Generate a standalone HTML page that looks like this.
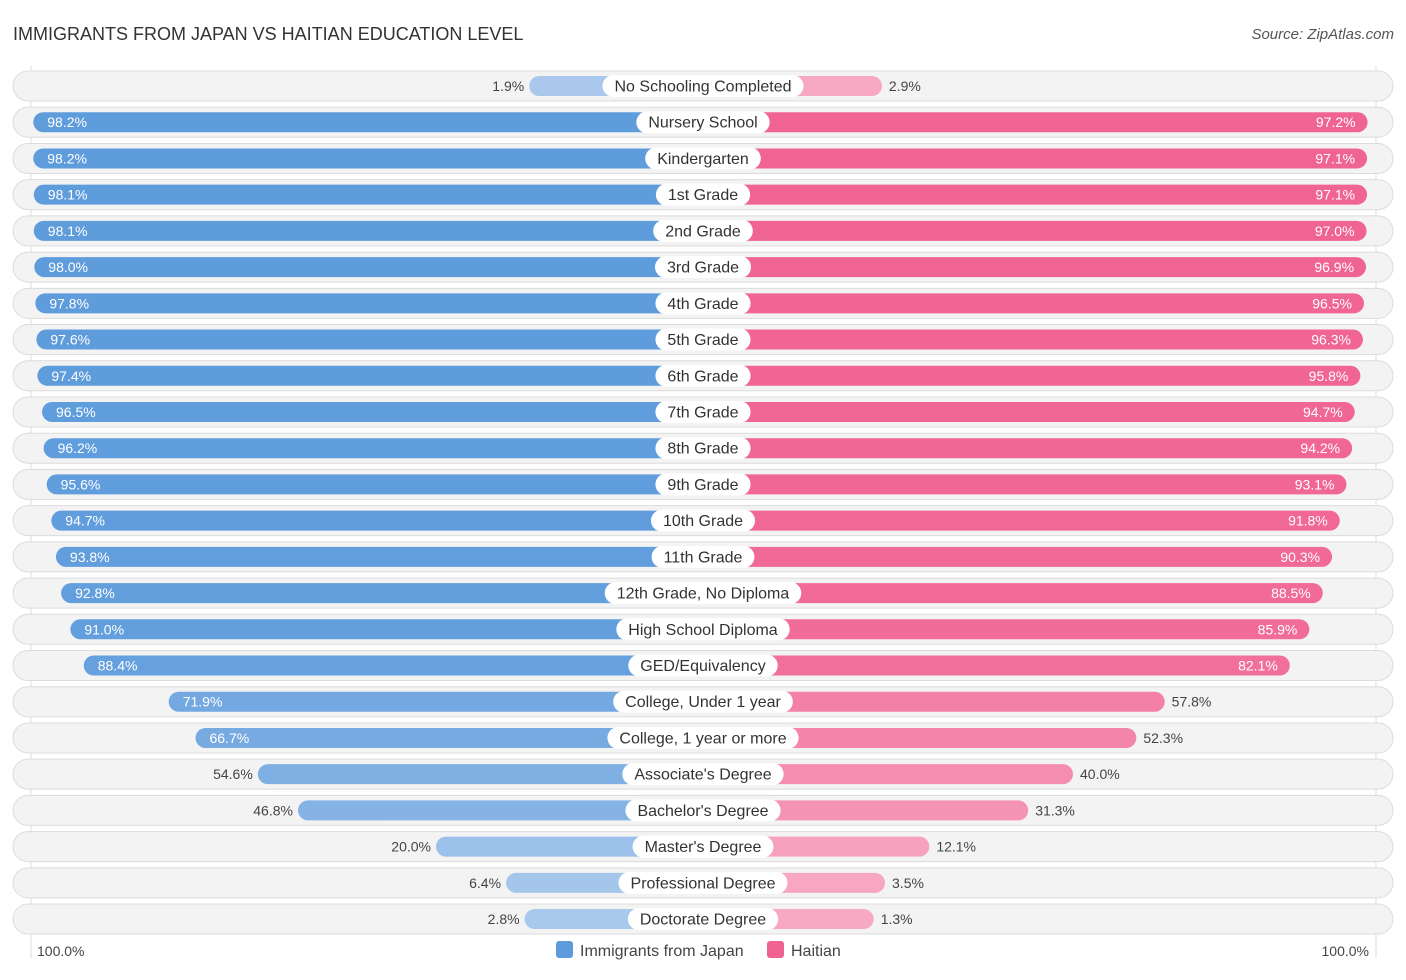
<!DOCTYPE html>
<html><head><meta charset="utf-8"><style>
body{margin:0;background:#fff;font-family:"Liberation Sans",sans-serif}
</style></head><body>
<svg id="c" width="1406" height="975" xmlns="http://www.w3.org/2000/svg" style="font-family:'Liberation Sans',sans-serif">
<text x="13" y="40" font-size="18" fill="#333">IMMIGRANTS FROM JAPAN VS HAITIAN EDUCATION LEVEL</text>
<text x="1394" y="39" font-size="15" fill="#555" font-style="italic" text-anchor="end">Source: ZipAtlas.com</text>
<line x1="31" y1="66" x2="31" y2="958" stroke="#ddd"/>
<line x1="1376" y1="66" x2="1376" y2="958" stroke="#ddd"/>
<g id="rows"></g>
<text x="37" y="956" font-size="14" fill="#444">100.0%</text>
<text x="1369" y="956" font-size="14" fill="#444" text-anchor="end">100.0%</text>
<g>
<rect x="556" y="941" width="17" height="17" rx="3" fill="#5d9bdc"/>
<text x="580" y="956" font-size="16" fill="#444">Immigrants from Japan</text>
<rect x="767" y="941" width="17" height="17" rx="3" fill="#f06292"/>
<text x="791" y="956" font-size="16" fill="#444">Haitian</text>
</g>
</svg>
<script>
const categories=["No Schooling Completed","Nursery School","Kindergarten","1st Grade","2nd Grade","3rd Grade","4th Grade","5th Grade","6th Grade","7th Grade","8th Grade","9th Grade","10th Grade","11th Grade","12th Grade, No Diploma","High School Diploma","GED/Equivalency","College, Under 1 year","College, 1 year or more","Associate's Degree","Bachelor's Degree","Master's Degree","Professional Degree","Doctorate Degree"];
const japan=[1.9,98.2,98.2,98.1,98.1,98.0,97.8,97.6,97.4,96.5,96.2,95.6,94.7,93.8,92.8,91.0,88.4,71.9,66.7,54.6,46.8,20.0,6.4,2.8];
const haitian=[2.9,97.2,97.1,97.1,97.0,96.9,96.5,96.3,95.8,94.7,94.2,93.1,91.8,90.3,88.5,85.9,82.1,57.8,52.3,40.0,31.3,12.1,3.5,1.3];
const NS="http://www.w3.org/2000/svg",cx=703,off=164,k=5.15,y0=86,dy=36.22;
function len(v){return off+k*v;}
function mix(a,b,t){return "rgb("+a.map((x,i)=>Math.round(x+(b[i]-x)*t)).join(",")+")";}
function mk(tag,at,p){const e=document.createElementNS(NS,tag);for(const a in at)e.setAttribute(a,at[a]);p.appendChild(e);return e;}
const g=document.getElementById("rows");
const cv=document.createElement("canvas").getContext("2d");cv.font="16px 'Liberation Sans'";
categories.forEach((c,i)=>{
 const y=y0+i*dy;
 const row=mk("g",{},g);
 
 
 const bg=mk("rect",{x:13,y:y-15,width:1380,height:30,rx:15,fill:"#f3f3f3",stroke:"#dcdcdc"},row);
 
 
 const jv=japan[i],hv=haitian[i];
 const jl=len(jv),hl=len(hv);
 const jt=Math.min(jv/100,1),ht=Math.min(hv/100,1);
 const jb=mk("rect",{x:cx-jl,y:y-10,width:jl,height:20,rx:10,fill:mix([170,201,236],[93,155,220],jt)},row);
 
 
 const hb=mk("rect",{x:cx,y:y-10,width:hl,height:20,rx:10,fill:mix([247,170,196],[240,98,146],ht)},row);
 
 
 const w=cv.measureText(c).width+24;
 const lb=mk("rect",{x:cx-w/2,y:y-11,width:w,height:22,rx:11,fill:"#fff"},row);
 
 
 const lt=mk("text",{x:cx,y:y+5.5,"font-size":16,fill:"#333","text-anchor":"middle"},row);lt.textContent=c;
 
 
 const inJ=jv>60,inH=hv>60;
 const jtx=mk("text",{x:inJ?cx-jl+14:cx-jl-5,y:y+5,"font-size":14,fill:inJ?"#fff":"#444","text-anchor":inJ?"start":"end"},row);jtx.textContent=jv.toFixed(1)+"%";
 
 
 const htx=mk("text",{x:inH?cx+hl-12:cx+hl+7,y:y+5,"font-size":14,fill:inH?"#fff":"#444","text-anchor":inH?"end":"start"},row);htx.textContent=hv.toFixed(1)+"%";
 
 
});
</script>
</body></html>
